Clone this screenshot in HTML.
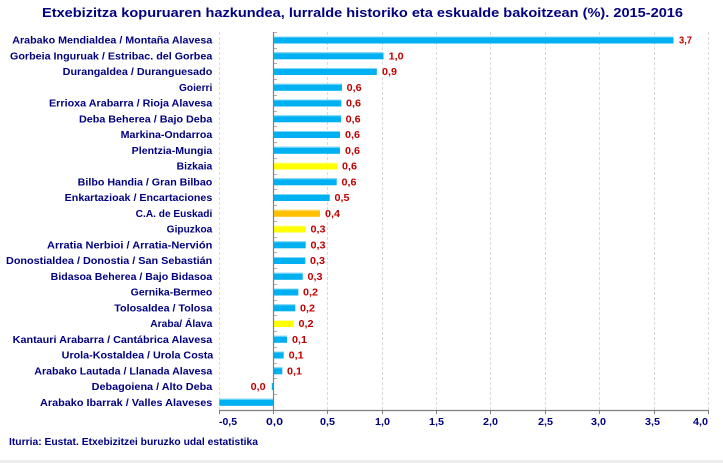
<!DOCTYPE html>
<html><head><meta charset="utf-8"><style>
html,body{margin:0;padding:0;background:#fff;}
svg{display:block;}
text{font-family:"Liberation Sans",Arial,sans-serif;font-weight:bold;}
</style></head><body>
<svg width="723" height="463" viewBox="0 0 723 463" xmlns="http://www.w3.org/2000/svg">
<rect width="723" height="463" fill="#fff"/>
<rect x="0" y="460" width="723" height="3" fill="#ececec"/>
<text x="42" y="17" font-size="13" fill="#000080" textLength="641" lengthAdjust="spacingAndGlyphs">Etxebizitza kopuruaren hazkundea, lurralde historiko eta eskualde bakoitzean (%). 2015-2016</text>
<g stroke="#d9d9d9" stroke-width="1" stroke-dasharray="3,2">
<line x1="219.5" y1="32" x2="219.5" y2="410"/>
<line x1="327.5" y1="32" x2="327.5" y2="410"/>
<line x1="382.5" y1="32" x2="382.5" y2="410"/>
<line x1="436.5" y1="32" x2="436.5" y2="410"/>
<line x1="490.5" y1="32" x2="490.5" y2="410"/>
<line x1="545.5" y1="32" x2="545.5" y2="410"/>
<line x1="599.5" y1="32" x2="599.5" y2="410"/>
<line x1="654.5" y1="32" x2="654.5" y2="410"/>
<line x1="708.5" y1="32" x2="708.5" y2="410"/>
</g>
<g id="bars"></g>
<g stroke="#b0b0b0" stroke-width="1">
<line x1="273" y1="32.5" x2="277" y2="32.5"/><line x1="273" y1="48.5" x2="277" y2="48.5"/><line x1="273" y1="63.5" x2="277" y2="63.5"/><line x1="273" y1="79.5" x2="277" y2="79.5"/><line x1="273" y1="95.5" x2="277" y2="95.5"/><line x1="273" y1="111.5" x2="277" y2="111.5"/><line x1="273" y1="126.5" x2="277" y2="126.5"/><line x1="273" y1="142.5" x2="277" y2="142.5"/><line x1="273" y1="158.5" x2="277" y2="158.5"/><line x1="273" y1="174.5" x2="277" y2="174.5"/><line x1="273" y1="189.5" x2="277" y2="189.5"/><line x1="273" y1="205.5" x2="277" y2="205.5"/><line x1="273" y1="221.5" x2="277" y2="221.5"/><line x1="273" y1="237.5" x2="277" y2="237.5"/><line x1="273" y1="252.5" x2="277" y2="252.5"/><line x1="273" y1="268.5" x2="277" y2="268.5"/><line x1="273" y1="284.5" x2="277" y2="284.5"/><line x1="273" y1="300.5" x2="277" y2="300.5"/><line x1="273" y1="315.5" x2="277" y2="315.5"/><line x1="273" y1="331.5" x2="277" y2="331.5"/><line x1="273" y1="347.5" x2="277" y2="347.5"/><line x1="273" y1="363.5" x2="277" y2="363.5"/><line x1="273" y1="378.5" x2="277" y2="378.5"/><line x1="273" y1="394.5" x2="277" y2="394.5"/>
</g>
<!-- bars -->
<g>
<rect x="273.5" y="36.5" width="400" height="7" fill="#00B0F0"/><rect x="273.5" y="36.5" width="400" height="1" fill="#80d8f8"/>
<rect x="273.5" y="52.3" width="110" height="7" fill="#00B0F0"/><rect x="273.5" y="52.3" width="110" height="1" fill="#80d8f8"/>
<rect x="273.5" y="68" width="103.3" height="7" fill="#00B0F0"/><rect x="273.5" y="68" width="103.3" height="1" fill="#80d8f8"/>
<rect x="273.5" y="83.8" width="68.5" height="7" fill="#00B0F0"/><rect x="273.5" y="83.8" width="68.5" height="1" fill="#80d8f8"/>
<rect x="273.5" y="99.5" width="67.8" height="7" fill="#00B0F0"/><rect x="273.5" y="99.5" width="67.8" height="1" fill="#80d8f8"/>
<rect x="273.5" y="115.3" width="67.5" height="7" fill="#00B0F0"/><rect x="273.5" y="115.3" width="67.5" height="1" fill="#80d8f8"/>
<rect x="273.5" y="131" width="66.5" height="7" fill="#00B0F0"/><rect x="273.5" y="131" width="66.5" height="1" fill="#80d8f8"/>
<rect x="273.5" y="146.8" width="66.5" height="7" fill="#00B0F0"/><rect x="273.5" y="146.8" width="66.5" height="1" fill="#80d8f8"/>
<rect x="273.5" y="162.5" width="63.8" height="7" fill="#FFFF00"/><rect x="273.5" y="162.5" width="63.8" height="1" fill="#ffff99"/>
<rect x="273.5" y="178.3" width="63.2" height="7" fill="#00B0F0"/><rect x="273.5" y="178.3" width="63.2" height="1" fill="#80d8f8"/>
<rect x="273.5" y="194" width="56.2" height="7" fill="#00B0F0"/><rect x="273.5" y="194" width="56.2" height="1" fill="#80d8f8"/>
<rect x="273.5" y="209.8" width="46.5" height="7" fill="#FFC000"/><rect x="273.5" y="209.8" width="46.5" height="1" fill="#ffe080"/>
<rect x="273.5" y="225.5" width="32.2" height="7" fill="#FFFF00"/><rect x="273.5" y="225.5" width="32.2" height="1" fill="#ffff99"/>
<rect x="273.5" y="241.3" width="32.2" height="7" fill="#00B0F0"/><rect x="273.5" y="241.3" width="32.2" height="1" fill="#80d8f8"/>
<rect x="273.5" y="257" width="31.8" height="7" fill="#00B0F0"/><rect x="273.5" y="257" width="31.8" height="1" fill="#80d8f8"/>
<rect x="273.5" y="272.8" width="29.2" height="7" fill="#00B0F0"/><rect x="273.5" y="272.8" width="29.2" height="1" fill="#80d8f8"/>
<rect x="273.5" y="288.5" width="24.8" height="7" fill="#00B0F0"/><rect x="273.5" y="288.5" width="24.8" height="1" fill="#80d8f8"/>
<rect x="273.5" y="304.3" width="21.8" height="7" fill="#00B0F0"/><rect x="273.5" y="304.3" width="21.8" height="1" fill="#80d8f8"/>
<rect x="273.5" y="320" width="20.2" height="7" fill="#FFFF00"/><rect x="273.5" y="320" width="20.2" height="1" fill="#ffff99"/>
<rect x="273.5" y="335.8" width="13.5" height="7" fill="#00B0F0"/><rect x="273.5" y="335.8" width="13.5" height="1" fill="#80d8f8"/>
<rect x="273.5" y="351.5" width="10.2" height="7" fill="#00B0F0"/><rect x="273.5" y="351.5" width="10.2" height="1" fill="#80d8f8"/>
<rect x="273.5" y="367.3" width="8.8" height="7" fill="#00B0F0"/><rect x="273.5" y="367.3" width="8.8" height="1" fill="#80d8f8"/>
<rect x="271.8" y="383" width="1.5" height="7" fill="#00B0F0"/>
<rect x="219.3" y="398.8" width="54" height="7" fill="#00B0F0"/><rect x="219.3" y="398.8" width="54" height="1" fill="#80d8f8"/>
</g>
<!-- axes -->
<line x1="273.5" y1="32" x2="273.5" y2="411" stroke="#808080" stroke-width="1.2"/>
<line x1="219" y1="410.5" x2="709" y2="410.5" stroke="#808080" stroke-width="1.2"/>
<g stroke="#808080" stroke-width="1">
<line x1="219.5" y1="410" x2="219.5" y2="414"/><line x1="273.5" y1="410" x2="273.5" y2="414"/><line x1="327.5" y1="410" x2="327.5" y2="414"/><line x1="382.5" y1="410" x2="382.5" y2="414"/><line x1="436.5" y1="410" x2="436.5" y2="414"/><line x1="490.5" y1="410" x2="490.5" y2="414"/><line x1="545.5" y1="410" x2="545.5" y2="414"/><line x1="599.5" y1="410" x2="599.5" y2="414"/><line x1="654.5" y1="410" x2="654.5" y2="414"/><line x1="708.5" y1="410" x2="708.5" y2="414"/>
</g>
<!-- x tick labels -->
<g font-size="10" fill="#000080">
<text x="219" y="425" textLength="18" lengthAdjust="spacingAndGlyphs">-0,5</text>
<text x="266" y="425" textLength="17" lengthAdjust="spacingAndGlyphs">0,0</text>
<text x="320" y="425" textLength="15" lengthAdjust="spacingAndGlyphs">0,5</text>
<text x="375" y="425" textLength="15" lengthAdjust="spacingAndGlyphs">1,0</text>
<text x="429" y="425" textLength="15" lengthAdjust="spacingAndGlyphs">1,5</text>
<text x="483" y="425" textLength="15" lengthAdjust="spacingAndGlyphs">2,0</text>
<text x="538" y="425" textLength="15" lengthAdjust="spacingAndGlyphs">2,5</text>
<text x="591" y="425" textLength="15" lengthAdjust="spacingAndGlyphs">3,0</text>
<text x="645" y="425" textLength="15" lengthAdjust="spacingAndGlyphs">3,5</text>
<text x="693" y="425" textLength="15" lengthAdjust="spacingAndGlyphs">4,0</text>
</g>
<!-- value labels -->
<g font-size="10" fill="#C00000">
<text x="679" y="43.7" textLength="13" lengthAdjust="spacingAndGlyphs">3,7</text>
<text x="388.7" y="59.5" textLength="15" lengthAdjust="spacingAndGlyphs">1,0</text>
<text x="382" y="75.2" textLength="15" lengthAdjust="spacingAndGlyphs">0,9</text>
<text x="346.7" y="91" textLength="15" lengthAdjust="spacingAndGlyphs">0,6</text>
<text x="346" y="106.7" textLength="15" lengthAdjust="spacingAndGlyphs">0,6</text>
<text x="345.7" y="122.5" textLength="15" lengthAdjust="spacingAndGlyphs">0,6</text>
<text x="345" y="138.2" textLength="15" lengthAdjust="spacingAndGlyphs">0,6</text>
<text x="345" y="154" textLength="15" lengthAdjust="spacingAndGlyphs">0,6</text>
<text x="342" y="169.7" textLength="15" lengthAdjust="spacingAndGlyphs">0,6</text>
<text x="341.5" y="185.5" textLength="15" lengthAdjust="spacingAndGlyphs">0,6</text>
<text x="334.5" y="201.2" textLength="15" lengthAdjust="spacingAndGlyphs">0,5</text>
<text x="325" y="217" textLength="15" lengthAdjust="spacingAndGlyphs">0,4</text>
<text x="310.5" y="232.7" textLength="15" lengthAdjust="spacingAndGlyphs">0,3</text>
<text x="310.5" y="248.5" textLength="15" lengthAdjust="spacingAndGlyphs">0,3</text>
<text x="310" y="264.2" textLength="15" lengthAdjust="spacingAndGlyphs">0,3</text>
<text x="307.5" y="280" textLength="15" lengthAdjust="spacingAndGlyphs">0,3</text>
<text x="303" y="295.7" textLength="15" lengthAdjust="spacingAndGlyphs">0,2</text>
<text x="300" y="311.5" textLength="15" lengthAdjust="spacingAndGlyphs">0,2</text>
<text x="298.5" y="327.2" textLength="15" lengthAdjust="spacingAndGlyphs">0,2</text>
<text x="292" y="343" textLength="15" lengthAdjust="spacingAndGlyphs">0,1</text>
<text x="288.7" y="358.7" textLength="15" lengthAdjust="spacingAndGlyphs">0,1</text>
<text x="287" y="374.5" textLength="15" lengthAdjust="spacingAndGlyphs">0,1</text>
<text x="250.7" y="390.2" textLength="15" lengthAdjust="spacingAndGlyphs">0,0</text>
</g>
<!-- category labels -->
<g font-size="10" fill="#000080">
<text x="12.3" y="43.7" textLength="200" lengthAdjust="spacingAndGlyphs">Arabako Mendialdea / Montaña Alavesa</text>
<text x="10" y="59.5" textLength="202.3" lengthAdjust="spacingAndGlyphs">Gorbeia Inguruak / Estribac. del Gorbea</text>
<text x="62.7" y="75.2" textLength="149.6" lengthAdjust="spacingAndGlyphs">Durangaldea / Duranguesado</text>
<text x="179" y="91" textLength="33.3" lengthAdjust="spacingAndGlyphs">Goierri</text>
<text x="49" y="106.7" textLength="163.3" lengthAdjust="spacingAndGlyphs">Errioxa Arabarra / Rioja Alavesa</text>
<text x="79" y="122.5" textLength="133.3" lengthAdjust="spacingAndGlyphs">Deba Beherea / Bajo Deba</text>
<text x="120.7" y="138.2" textLength="91.6" lengthAdjust="spacingAndGlyphs">Markina-Ondarroa</text>
<text x="131.7" y="154" textLength="80.6" lengthAdjust="spacingAndGlyphs">Plentzia-Mungia</text>
<text x="176.7" y="169.7" textLength="35.6" lengthAdjust="spacingAndGlyphs">Bizkaia</text>
<text x="77.7" y="185.5" textLength="134.6" lengthAdjust="spacingAndGlyphs">Bilbo Handia / Gran Bilbao</text>
<text x="64.7" y="201.2" textLength="147.6" lengthAdjust="spacingAndGlyphs">Enkartazioak / Encartaciones</text>
<text x="135.7" y="217" textLength="76.6" lengthAdjust="spacingAndGlyphs">C.A. de Euskadi</text>
<text x="166.7" y="232.7" textLength="45.6" lengthAdjust="spacingAndGlyphs">Gipuzkoa</text>
<text x="47" y="248.5" textLength="165.3" lengthAdjust="spacingAndGlyphs">Arratia Nerbioi / Arratia-Nervión</text>
<text x="6" y="264.2" textLength="206.3" lengthAdjust="spacingAndGlyphs">Donostialdea / Donostia / San Sebastián</text>
<text x="50.7" y="280" textLength="161.6" lengthAdjust="spacingAndGlyphs">Bidasoa Beherea / Bajo Bidasoa</text>
<text x="130.7" y="295.7" textLength="81.6" lengthAdjust="spacingAndGlyphs">Gernika-Bermeo</text>
<text x="114.3" y="311.5" textLength="98" lengthAdjust="spacingAndGlyphs">Tolosaldea / Tolosa</text>
<text x="150.3" y="327.2" textLength="62" lengthAdjust="spacingAndGlyphs">Araba/ Álava</text>
<text x="12.7" y="343" textLength="199.6" lengthAdjust="spacingAndGlyphs">Kantauri Arabarra / Cantábrica Alavesa</text>
<text x="61.7" y="358.7" textLength="151.6" lengthAdjust="spacingAndGlyphs">Urola-Kostaldea / Urola Costa</text>
<text x="34.3" y="374.5" textLength="178" lengthAdjust="spacingAndGlyphs">Arabako Lautada / Llanada Alavesa</text>
<text x="91.7" y="390.2" textLength="120.6" lengthAdjust="spacingAndGlyphs">Debagoiena / Alto Deba</text>
<text x="40" y="406" textLength="172.3" lengthAdjust="spacingAndGlyphs">Arabako Ibarrak / Valles Alaveses</text>
</g>
<text x="9" y="445" font-size="10" fill="#000080" textLength="249" lengthAdjust="spacingAndGlyphs">Iturria: Eustat. Etxebizitzei buruzko udal estatistika</text>
</svg>
</body></html>
